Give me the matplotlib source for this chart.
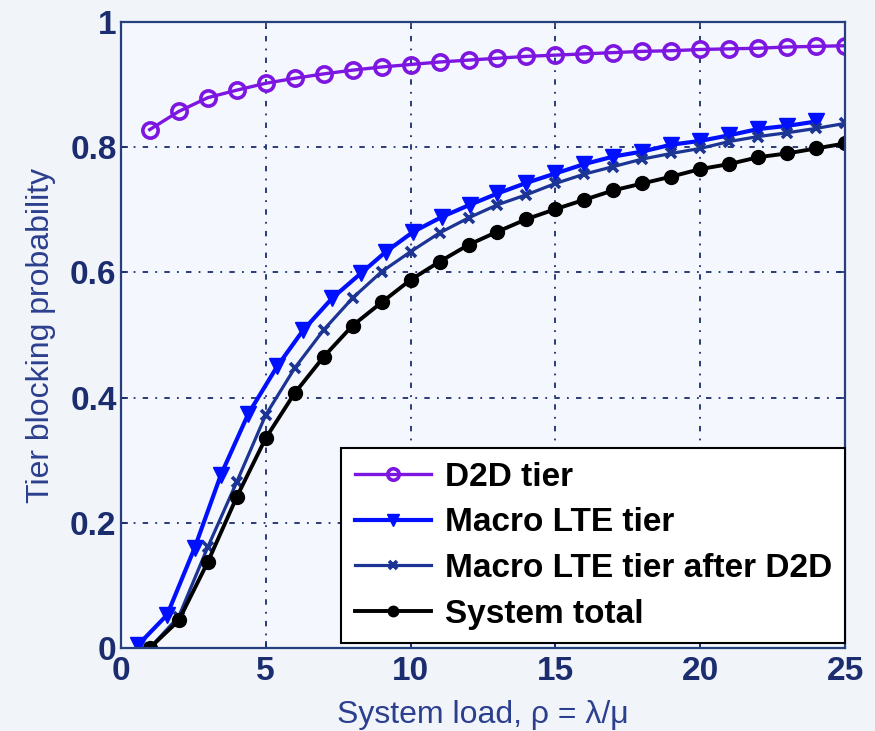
import matplotlib
matplotlib.use("Agg")
from matplotlib import pyplot as plt

plt.rcParams['font.family'] = ['Liberation Sans', 'DejaVu Sans']

# data
rho = list(range(1, 26))
d2d = [0.828, 0.857, 0.879, 0.891, 0.902, 0.910, 0.917, 0.923, 0.928, 0.932,
       0.936, 0.939, 0.942, 0.945, 0.947, 0.949, 0.951, 0.953, 0.954, 0.956,
       0.957, 0.958, 0.960, 0.961, 0.962]
macro_x = [0.6, 1.6, 2.55, 3.45, 4.4, 5.4, 6.3, 7.3, 8.3, 9.15, 10.1, 11.1,
           12.05, 13, 14, 15, 16, 17, 18, 19, 20, 21, 22, 23, 24]
macro = [0.005, 0.053, 0.160, 0.276, 0.374, 0.450, 0.508, 0.559, 0.599, 0.633,
         0.665, 0.689, 0.708, 0.726, 0.743, 0.758, 0.773, 0.785, 0.793, 0.804,
         0.810, 0.819, 0.829, 0.834, 0.841]
macro_after = [0.0, 0.050, 0.161, 0.265, 0.372, 0.447, 0.508, 0.559, 0.601, 0.633,
               0.663, 0.687, 0.708, 0.724, 0.742, 0.757, 0.769, 0.781, 0.790, 0.798,
               0.809, 0.817, 0.823, 0.830, 0.838]
total = [0.0, 0.044, 0.137, 0.241, 0.335, 0.407, 0.465, 0.515, 0.552, 0.588,
         0.617, 0.644, 0.665, 0.685, 0.701, 0.716, 0.731, 0.742, 0.753, 0.765,
         0.773, 0.784, 0.790, 0.798, 0.806]
labels = ['D2D tier', 'Macro LTE tier', 'Macro LTE tier after D2D', 'System total']
xticks = [0, 5, 10, 15, 20, 25]
yticks = [0, 0.2, 0.4, 0.6, 0.8, 1]
ytick_labels = ['0', '0.2', '0.4', '0.6', '0.8', '1']

navy = '#1b2d6e'

fig = plt.figure(figsize=(8.75, 7.31), dpi=100, facecolor='#f1f4f9')
ax = fig.add_axes([0.138, 0.1135, 0.828, 0.8565])
ax.set_facecolor('#f4f7fd')

ax.plot(rho, d2d, '-o', color='#7d16e0', lw=2.4, ms=11, mfc='none', mew=2.6, label=labels[0])
ax.plot(macro_x, macro, '-v', color='#0010ff', lw=3, ms=12, label=labels[1])
ax.plot(rho, macro_after, '-x', color='#1c3494', lw=2.3, ms=7, mew=2.6, label=labels[2])
ax.plot(rho, total, '-o', color='black', lw=2.8, ms=10, label=labels[3])

ax.set_xlim(0, 25)
ax.set_ylim(0, 1)
ax.set_xticks(xticks)
ax.set_yticks(yticks)
ax.set_yticklabels(ytick_labels)
ax.tick_params(direction='in', top=True, right=True, length=5, width=1.2, colors=navy,
               labelsize=24)
ax.tick_params(axis='y', pad=3)
ax.tick_params(axis='x', pad=6)
for t in ax.get_xticklabels() + ax.get_yticklabels():
    t.set_fontweight('bold')
for s in ax.spines.values():
    s.set_color('#26407e')
    s.set_linewidth(1.6)

ax.grid(True, color=navy, lw=1.3, linestyle=(0, (3, 4, 1, 4)))

ax.set_xlabel('System load, ρ = λ/μ', fontsize=23, color='#2c3f8e', labelpad=9)
ax.set_ylabel('Tier blocking probability', fontsize=23, color='#2c3f8e', labelpad=10)

leg = ax.legend(loc='lower right', bbox_to_anchor=(1.0, 0.008),
                prop={'weight': 'bold', 'size': 24}, numpoints=1, markerscale=0.75,
                frameon=True, fancybox=False, edgecolor='black', framealpha=1,
                borderaxespad=0, handlelength=2.3, labelspacing=0.44,
                handletextpad=0.4, borderpad=0.4)
leg.get_frame().set_linewidth(1.5)

fig.savefig('out.png', dpi=100, facecolor=fig.get_facecolor())
